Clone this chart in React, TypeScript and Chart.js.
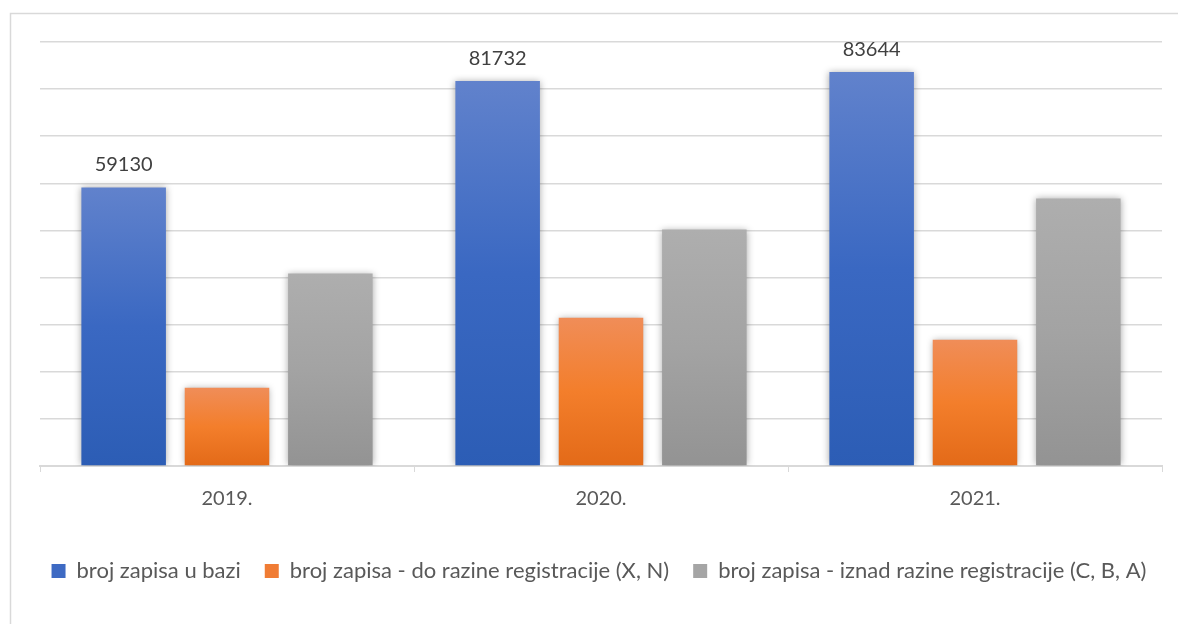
import React, { useEffect, useRef } from "react";
import { Chart, registerables } from "chart.js";

Chart.register(...registerables);

const categories = ["2019.", "2020.", "2021."];
const seriesNames = [
  "broj zapisa u bazi",
  "broj zapisa - do razine registracije (X, N)",
  "broj zapisa - iznad razine registracije (C, B, A)",
];
const totalRecords = [59130, 81732, 83644];
const belowRegistration = [16600, 31480, 26800];
const aboveRegistration = [40850, 50200, 56790];
const yMax = 90000;
const yStep = 10000;

const gradientStops: string[][] = [
  ["#6182cc", "#3a68c2", "#2c5db5"],
  ["#f08d58", "#f37e2b", "#e36a18"],
  ["#aeaeae", "#a3a3a3", "#939393"],
];
const legendColors = ["#3e6ac3", "#f07c34", "#a5a5a5"];

function barGradient(idx: number) {
  return (context: any) => {
    const chart = context.chart;
    const { ctx, chartArea, scales } = chart;
    if (!chartArea || !scales.y || context.type !== "data") return legendColors[idx];
    const v = context.raw as number;
    const top = scales.y.getPixelForValue(v);
    const bottom = scales.y.getPixelForValue(0);
    const g = ctx.createLinearGradient(0, top, 0, bottom);
    const s = gradientStops[idx];
    g.addColorStop(0, s[0]);
    g.addColorStop(0.5, s[1]);
    g.addColorStop(1, s[2]);
    return g;
  };
}

const framePlugin = {
  id: "frame",
  beforeDraw(chart: any) {
    const ctx = chart.ctx;
    ctx.save();
    ctx.fillStyle = "#ffffff";
    ctx.fillRect(0, 0, chart.width, chart.height);
    ctx.strokeStyle = "#d9d9d9";
    ctx.lineWidth = 1.5;
    ctx.strokeRect(10.5, 13.5, chart.width + 20, chart.height + 20);
    ctx.restore();
  },
};

const shadowLabelPlugin = {
  id: "shadowLabels",
  beforeDatasetsDraw(chart: any) {
    const ctx = chart.ctx;
    ctx.save();
    ctx.shadowColor = "rgba(0,0,0,0.35)";
    ctx.shadowBlur = 7;
    ctx.shadowOffsetX = 0;
    ctx.shadowOffsetY = 0;
  },
  afterDatasetsDraw(chart: any) {
    const ctx = chart.ctx;
    ctx.restore();
    const meta = chart.getDatasetMeta(0);
    ctx.save();
    ctx.fillStyle = "#404040";
    ctx.font = "20px Lato";
    ctx.textAlign = "center";
    ctx.textBaseline = "alphabetic";
    meta.data.forEach((el: any, i: number) => {
      const val = chart.data.datasets[0].data[i];
      ctx.fillText(String(val), el.x, el.y - 16);
    });
    ctx.restore();
  },
};

export default function App() {
  const ref = useRef<HTMLCanvasElement | null>(null);
  useEffect(() => {
    if (!ref.current) return;
    const data = [totalRecords, belowRegistration, aboveRegistration];
    const chart = new Chart(ref.current, {
      type: "bar",
      data: {
        labels: categories,
        datasets: data.map((d, i) => ({
          label: seriesNames[i],
          data: d,
          backgroundColor: barGradient(i),
          borderWidth: 0,
          categoryPercentage: 0.829,
          barPercentage: 0.818,
        })),
      },
      options: {
        responsive: false,
        animation: false,
        layout: { padding: { left: 20, right: 0, top: 42, bottom: 32 } },
        plugins: {
          tooltip: { enabled: false },
          legend: {
            position: "bottom",
            labels: {
              boxWidth: 14,
              boxHeight: 14,
              padding: 24,
              color: "#595959",
              font: { family: "Lato", size: 22 },
              generateLabels: (c: any) =>
                c.data.datasets.map((ds: any, i: number) => ({
                  text: ds.label,
                  fillStyle: legendColors[i],
                  strokeStyle: legendColors[i],
                  lineWidth: 0,
                  hidden: false,
                  datasetIndex: i,
                  fontColor: "#595959",
                })),
            },
          },
        },
        scales: {
          x: {
            grid: {
              display: true,
              drawOnChartArea: false,
              drawTicks: true,
              tickLength: 6,
              color: "#d9d9d9",
              offset: true,
            },
            border: { display: true, color: "#d9d9d9", width: 2 },
            ticks: {
              color: "#595959",
              font: { family: "Lato", size: 20 },
              padding: 15,
            },
            afterFit: (scale: any) => {
              scale.height = 70;
            },
          },
          y: {
            min: 0,
            max: yMax,
            ticks: { display: false, stepSize: yStep },
            grid: { color: "#d9d9d9", lineWidth: 1.5, drawTicks: false },
            border: { display: false },
            afterFit: (scale: any) => {
              scale.width = 20;
            },
          },
          yRight: {
            position: "right",
            min: 0,
            max: yMax,
            ticks: { display: false },
            grid: { display: false, drawTicks: false },
            border: { display: false },
            afterFit: (scale: any) => {
              scale.width = 16;
            },
          },
        },
      },
      plugins: [framePlugin, shadowLabelPlugin],
    } as any);
    return () => chart.destroy();
  }, []);
  return (
    <div style={{ position: "absolute", left: 0, top: 0, width: 1178, height: 624 }}>
      <canvas ref={ref} width={1178} height={624} />
    </div>
  );
}
